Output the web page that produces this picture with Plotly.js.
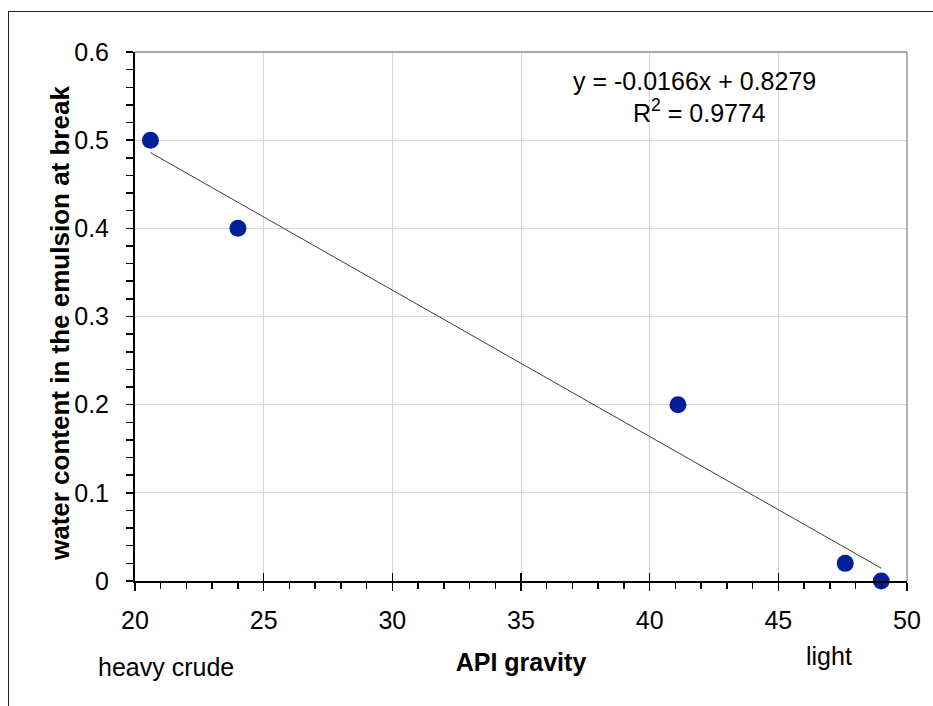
<!DOCTYPE html>
<html>
<head>
<meta charset="utf-8">
<script src="https://cdn.plot.ly/plotly-3.0.1.min.js"></script>
<style>
  html, body { margin: 0; padding: 0; background: #fff; overflow: hidden; }
  #chart { width: 933px; height: 706px; position: relative; }
  #frame { position: absolute; left: 8px; top: 11px; width: 1200px; height: 1200px;
           border: 1.5px solid #222; pointer-events: none; z-index: 5; box-sizing: border-box; }
</style>
</head>
<body>
<div id="chart"></div>
<div id="frame"></div>
<script>
// Data
const apiGravity = [20.6, 24.0, 41.1, 47.6, 49.0];
const waterContent = [0.50, 0.40, 0.20, 0.02, 0.00];
// Linear trendline as reported on the chart
const trendSlope = -0.0166;
const trendIntercept = 0.8279;
const rSquared = 0.9774;
const xTickVals = [20, 25, 30, 35, 40, 45, 50];
const yTickVals = [0, 0.1, 0.2, 0.3, 0.4, 0.5, 0.6];
const yTickText = ['0', '0.1', '0.2', '0.3', '0.4', '0.5', '0.6'];

const xMin = Math.min(...apiGravity), xMax = Math.max(...apiGravity);
const trendX = [xMin, xMax];
const trendY = trendX.map(v => trendSlope * v + trendIntercept);

const FONT = 'Liberation Sans, Arial, sans-serif';

const traces = [
  { x: trendX, y: trendY, mode: 'lines', type: 'scatter',
    line: { color: '#3a3a3a', width: 1 }, hoverinfo: 'skip', showlegend: false },
  { x: apiGravity, y: waterContent, mode: 'markers', type: 'scatter',
    marker: { color: '#00209a', size: 17 }, showlegend: false, cliponaxis: false },
  // helper trace to attach the overlay axis carrying the inward half of the major x ticks
  { x: [], y: [], xaxis: 'x2', yaxis: 'y', type: 'scatter', mode: 'markers', showlegend: false, hoverinfo: 'skip' }
];

const layout = {
  width: 933, height: 706,
  margin: { l: 135, r: 26, t: 52, b: 125 },
  paper_bgcolor: '#fff', plot_bgcolor: '#fff',
  font: { family: FONT, size: 25, color: '#000' },
  showlegend: false,
  xaxis: {
    range: [20, 50], tickvals: xTickVals, ticktext: xTickVals.map(String),
    ticks: 'outside', ticklen: 8, tickwidth: 1.5, tickcolor: '#000',
    minor: { dtick: 1, tick0: 20, ticks: 'outside', ticklen: 6, tickwidth: 1.5, tickcolor: '#000', showgrid: false },
    showline: true, linecolor: '#000', linewidth: 2,
    showgrid: true, gridcolor: '#d6d6d6', gridwidth: 1,
    zeroline: false, fixedrange: true, layer: 'above traces',
    tickfont: { family: FONT, size: 25, color: '#000' },
    ticklabelstandoff: 8,
    title: { text: '<b>API gravity</b>', font: { family: FONT, size: 25, color: '#000' }, standoff: 20 }
  },
  xaxis2: {
    overlaying: 'x', anchor: 'y', range: [20, 50], tickvals: xTickVals,
    ticks: 'inside', ticklen: 8, tickwidth: 1.5, tickcolor: '#000',
    showticklabels: false, showgrid: false, showline: false, zeroline: false, fixedrange: true
  },
  yaxis: {
    range: [0, 0.6], tickvals: yTickVals, ticktext: yTickText,
    ticks: 'outside', ticklen: 7, tickwidth: 1.5, tickcolor: '#000',
    minor: { dtick: 0.02, tick0: 0, ticks: 'outside', ticklen: 7, tickwidth: 1.5, tickcolor: '#000', showgrid: false },
    showline: true, linecolor: '#000', linewidth: 2,
    showgrid: true, gridcolor: '#d6d6d6', gridwidth: 1,
    zeroline: false, fixedrange: true, layer: 'above traces',
    tickfont: { family: FONT, size: 25, color: '#000' },
    ticklabelstandoff: 12
  },
  shapes: [
    // plot-area border (top and right), gray
    { type: 'line', xref: 'paper', yref: 'paper', x0: 0, x1: 1, y0: 1, y1: 1, line: { color: '#8c8c8c', width: 1.3 } },
    { type: 'line', xref: 'paper', yref: 'paper', x0: 1, x1: 1, y0: 0, y1: 1, line: { color: '#8c8c8c', width: 1.3 } }
  ],
  annotations: [
    { text: '<b>water content in the emulsion at break</b>', textangle: -90,
      xref: 'paper', yref: 'paper', x: -0.097, y: 0.486, showarrow: false,
      xanchor: 'center', yanchor: 'middle', font: { family: FONT, size: 26, color: '#000' } },
    { text: 'y = ' + trendSlope.toFixed(4) + 'x + ' + trendIntercept.toFixed(4),
      xref: 'x', yref: 'y', x: 41.76, y: 0.567, showarrow: false,
      xanchor: 'center', yanchor: 'middle', font: { family: FONT, size: 25, color: '#000' } },
    { text: 'R<sup>2</sup> = ' + rSquared.toFixed(4),
      xref: 'x', yref: 'y', x: 41.95, y: 0.533, showarrow: false,
      xanchor: 'center', yanchor: 'middle', font: { family: FONT, size: 25, color: '#000' } },
    { text: 'heavy crude', xref: 'paper', yref: 'paper', x: 0.040, y: -0.162,
      showarrow: false, xanchor: 'center', yanchor: 'middle', font: { family: FONT, size: 25, color: '#000' } },
    { text: 'light', xref: 'paper', yref: 'paper', x: 0.899, y: -0.142,
      showarrow: false, xanchor: 'center', yanchor: 'middle', font: { family: FONT, size: 25, color: '#000' } }
  ]
};

Plotly.newPlot('chart', traces, layout, { displayModeBar: false, staticPlot: true });
</script>
</body>
</html>
